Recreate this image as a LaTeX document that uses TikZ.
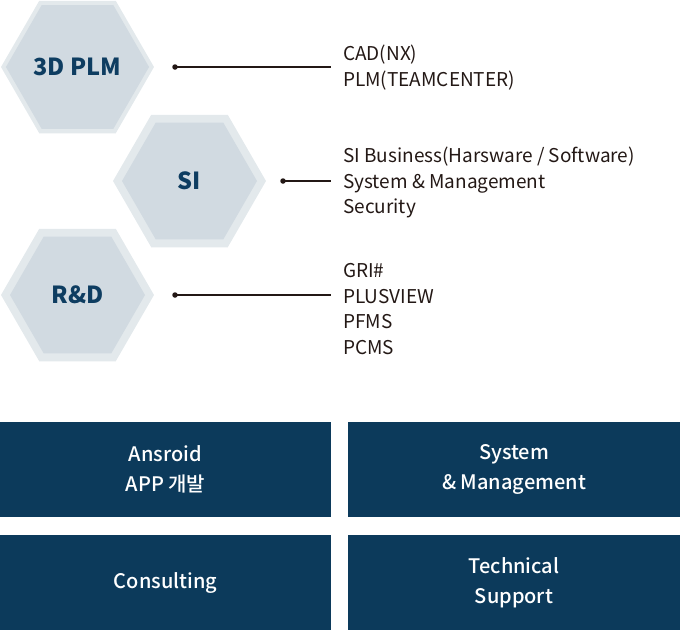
\documentclass[tikz,border=0pt]{standalone}
\usepackage{fontspec}
\setmainfont{Noto Sans CJK KR}
\newfontfamily\medfont{Noto Sans CJK KR Medium}
\usetikzlibrary{shapes.geometric}
\definecolor{hexouter}{HTML}{E3E9EC}
\definecolor{hexinner}{HTML}{D1DAE1}
\definecolor{hextext}{HTML}{0E3D61}
\definecolor{boxfill}{HTML}{0C3A5B}
\definecolor{ink}{HTML}{231815}
\tikzset{
  hexout/.style={regular polygon, regular polygon sides=6, minimum size=153pt, inner sep=0pt, fill=hexouter},
  hexin/.style={regular polygon, regular polygon sides=6, minimum size=135pt, inner sep=0pt, fill=hexinner,
    text=hextext, font=\fontsize{23.5}{26}\selectfont\bfseries},
  conn/.style={draw=ink, line width=1.4pt},
  dotmark/.style={circle, fill=ink, inner sep=0pt, minimum size=5.5pt},
  list/.style={anchor=west, align=left, text=ink, inner sep=0pt, font=\fontsize{19}{25.6}\selectfont},
  svcbox/.style={rectangle, fill=boxfill, inner sep=0pt, minimum height=95pt, minimum width=331pt,
    text=white, align=center, font=\fontsize{20}{30}\selectfont\medfont},
}
\begin{document}
\begin{tikzpicture}[x=1pt, y=-1pt]
\useasboundingbox (0,0) rectangle (680,630);
% hexagons
\node[hexout] (plmo) at (77.5,67) {};
\node[hexin] (plm) at (plmo.center) {3D PLM};
\node[hexout] (sio) at (189.5,181) {};
\node[hexin] (si) at (sio.center) {SI};
\node[hexout] (rdo) at (77.5,295) {};
\node[hexin] (rd) at (rdo.center) {R\&D};
% connectors
\node[dotmark] (plmd) at (175,67) {};
\coordinate (plme) at (331,67);
\node[dotmark] (sid) at (283,181) {};
\coordinate (sie) at (331,181);
\node[dotmark] (rdd) at (175,295) {};
\coordinate (rde) at (331,295);
\draw[conn] (plmd.center) -- (plme);
\draw[conn] (sid.center) -- (sie);
\draw[conn] (rdd.center) -- (rde);
% lists
\node[list] (plmt) at (343,67.5) {CAD(NX)\\PLM(TEAMCENTER)};
\node[list] (sit) at (343,182.5) {SI Business(Harsware / Software)\\System \& Management\\Security};
\node[list] (rdt) at (343,309) {GRI\#\\PLUSVIEW\\PFMS\\PCMS};
% service boxes
\node[svcbox, minimum width=331pt] (b1) at (165.5,469.5) {Ansroid\\APP 개발};
\node[svcbox, minimum width=332pt] (b2) at (514,469.5) {System\\\& Management};
\node[svcbox, minimum width=331pt] (b3) at (165.5,582.5) {Consulting};
\node[svcbox, minimum width=332pt] (b4) at (514,582.5) {Technical\\Support};
\end{tikzpicture}
\end{document}
